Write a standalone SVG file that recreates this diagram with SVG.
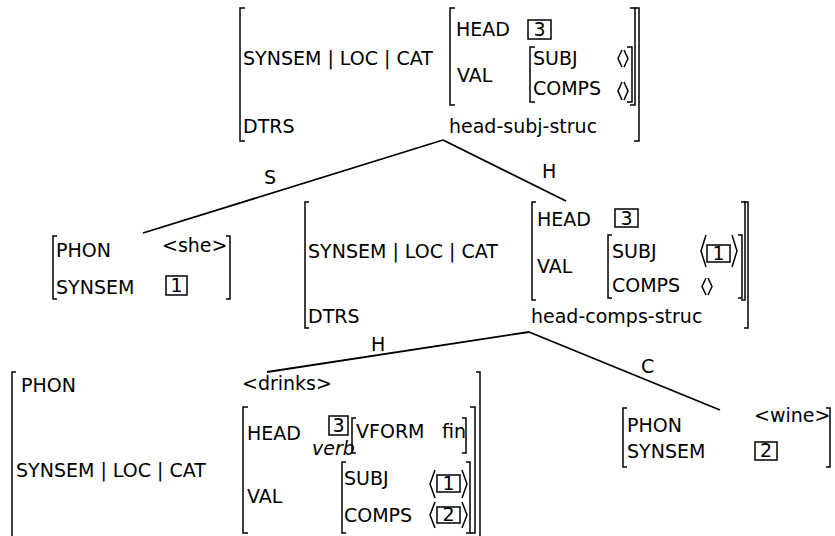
<svg xmlns="http://www.w3.org/2000/svg" width="835" height="536" viewBox="0 0 835 536">
<style>
.t{font-family:"DejaVu Sans",sans-serif;font-size:19px;fill:#000}
.i{font-style:italic}
.br{fill:none;stroke:#000;stroke-width:1.5}
.bx{fill:none;stroke:#000;stroke-width:1.5}
.ed{fill:none;stroke:#000;stroke-width:1.8}
</style>
<rect width="835" height="536" fill="#fff"/>
<g id="connectors">
<path class="ed" d="M443,140 L143,233"/>
<path class="ed" d="M443,140 L566,201"/>
<path class="ed" d="M529,332 L267,372"/>
<path class="ed" d="M529,332 L720,410"/>
<text class="t" x="264" y="184">S</text>
<text class="t" x="542" y="178">H</text>
<text class="t" x="371" y="351">H</text>
<text class="t" x="641" y="373">C</text>
</g>
<g id="root">
<path class="br" d="M245,8 H240 V141 H245"/>
<path class="br" d="M634,8 H639 V141 H634"/>
<path class="br" d="M455,8 H450 V105 H455"/>
<path class="br" d="M630,8 H635 V105 H630"/>
<path class="br" d="M535,47 H530 V102 H535"/>
<path class="br" d="M627,47 H632 V102 H627"/>
<text class="t" x="243" y="65">SYNSEM | LOC | CAT</text>
<text class="t" x="243" y="133">DTRS</text>
<text class="t" x="456" y="36">HEAD</text>
<rect class="bx" x="528" y="20" width="23" height="19"/>
<text class="t" x="539.5" y="36" text-anchor="middle">3</text>
<text class="t" x="457" y="82">VAL</text>
<text class="t" x="533" y="65">SUBJ</text>
<text class="t" x="533" y="95">COMPS</text>
<path class="br" d="M622,50 L618,58.5 L622,67 M624,50 L628,58.5 L624,67"/>
<path class="br" d="M622,82 L618,91 L622,100 M624,82 L628,91 L624,100"/>
<text class="t" x="449" y="133">head-subj-struc</text>
</g>
<g id="she">
<path class="br" d="M57,236 H53 V299 H57"/>
<path class="br" d="M226,236 H230 V299 H226"/>
<text class="t" x="56" y="257">PHON</text>
<text class="t" x="162" y="252">&lt;she&gt;</text>
<text class="t" x="56" y="294">SYNSEM</text>
<rect class="bx" x="166" y="276" width="21" height="19"/>
<text class="t" x="176.5" y="292" text-anchor="middle">1</text>
</g>
<g id="vp">
<path class="br" d="M309,202 H305 V328 H309"/>
<path class="br" d="M744,202 H748 V328 H744"/>
<path class="br" d="M536,202 H532 V300 H536"/>
<path class="br" d="M741,202 H745 V300 H741"/>
<path class="br" d="M612,235 H608 V298 H612"/>
<path class="br" d="M738,235 H742 V298 H738"/>
<text class="t" x="308" y="258">SYNSEM | LOC | CAT</text>
<text class="t" x="308" y="323">DTRS</text>
<text class="t" x="537" y="226">HEAD</text>
<rect class="bx" x="615" y="209" width="23" height="18"/>
<text class="t" x="626.5" y="225" text-anchor="middle">3</text>
<text class="t" x="537" y="273">VAL</text>
<text class="t" x="612" y="258">SUBJ</text>
<path class="br" d="M706,235 L701,251 L706,267"/>
<rect class="bx" x="707" y="245" width="23" height="17"/>
<text class="t" x="718.5" y="260" text-anchor="middle">1</text>
<path class="br" d="M732,235 L737,251 L732,267"/>
<text class="t" x="612" y="292">COMPS</text>
<path class="br" d="M706,278 L702,286.5 L706,295 M708,278 L712,286.5 L708,295"/>
<text class="t" x="531" y="323">head-comps-struc</text>
</g>
<g id="drinks">
<path class="br" d="M16,372 H12 V540"/>
<path class="br" d="M476,372 H480 V540"/>
<path class="br" d="M248,407 H243 V533 H248"/>
<path class="br" d="M470,407 H475 V533 H470"/>
<path class="br" d="M346,462 H342 V533 H346"/>
<path class="br" d="M466,462 H470 V533 H466"/>
<text class="t" x="21" y="392">PHON</text>
<text class="t" x="242" y="390">&lt;drinks&gt;</text>
<text class="t" x="16" y="477">SYNSEM | LOC | CAT</text>
<text class="t" x="247" y="440">HEAD</text>
<rect class="bx" x="329" y="416" width="19" height="19"/>
<text class="t" x="338.5" y="432" text-anchor="middle">3</text>
<text class="t i" x="312" y="455">verb</text>
<path class="br" d="M356,418 H352 V453 H356"/>
<path class="br" d="M462,418 H466 V453 H462"/>
<text class="t" x="356" y="438">VFORM</text>
<text class="t" x="442" y="438">fin</text>
<text class="t" x="247" y="503">VAL</text>
<text class="t" x="344" y="485">SUBJ</text>
<path class="br" d="M435,470 L430,484 L435,498"/>
<rect class="bx" x="437" y="475" width="23" height="17"/>
<text class="t" x="448.5" y="490" text-anchor="middle">1</text>
<path class="br" d="M462,470 L467,484 L462,498"/>
<text class="t" x="344" y="522">COMPS</text>
<path class="br" d="M435,502 L430,515 L435,528"/>
<rect class="bx" x="437" y="507" width="23" height="16"/>
<text class="t" x="448.5" y="521" text-anchor="middle">2</text>
<path class="br" d="M462,502 L467,515 L462,528"/>
</g>
<g id="wine">
<path class="br" d="M627,408 H623 V467 H627"/>
<path class="br" d="M826,408 H830 V467 H826"/>
<text class="t" x="627" y="432">PHON</text>
<text class="t" x="754" y="422">&lt;wine&gt;</text>
<text class="t" x="627" y="458">SYNSEM</text>
<rect class="bx" x="755" y="442" width="22" height="18"/>
<text class="t" x="766" y="457" text-anchor="middle">2</text>
</g>
</svg>
